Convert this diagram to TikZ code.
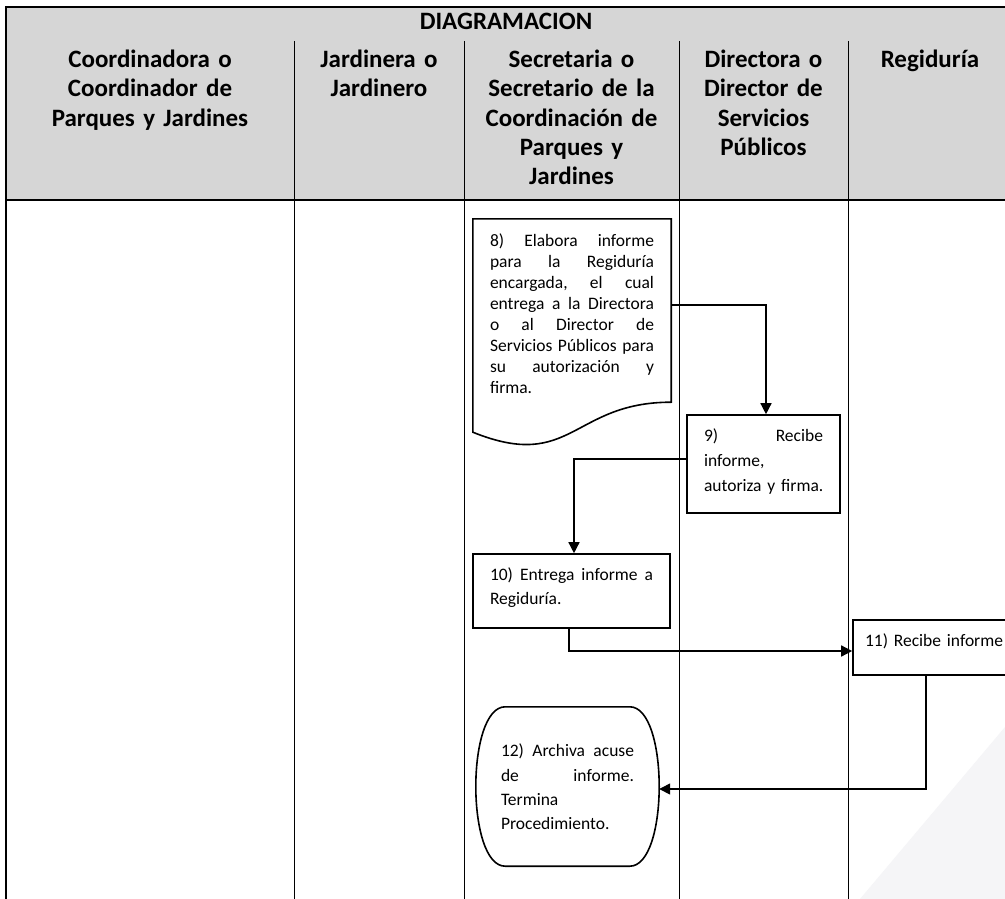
\documentclass[tikz,border=0pt]{standalone}
\usepackage{fontspec}
\setmainfont{Carlito}
\usetikzlibrary{arrows.meta,calc}
\definecolor{headgray}{RGB}{214,214,214}
\definecolor{wmark}{RGB}{245,245,247}
\newcommand\jline[1]{{\frenchspacing\spaceskip=0.23em plus 1fil\relax\makebox[\hsize][s]{#1}}}
\newcommand\lline[1]{\makebox[\hsize][l]{#1}}
\tikzset{
  lane/.style={line width=1pt},
  border/.style={line width=1.3pt},
  shapeline/.style={line width=1.6pt},
  box/.style={inner sep=0pt, align=left, font=\fontsize{17.5}{21}\selectfont},
  flow/.style={line width=1.4pt, -{Triangle[length=11pt,width=11pt]}},
  hdr/.style={font=\bfseries\fontsize{25}{29.5}\selectfont, align=center, anchor=base, text width=#1, inner sep=0pt},
}
\begin{document}
\begin{tikzpicture}[x=1pt,y=-1pt]
\useasboundingbox (0,0) rectangle (1005,899);
\fill[white] (0,0) rectangle (1005,899);
\fill[wmark] (860,899) -- (1005,727) -- (1005,899) -- cycle;
% table
\fill[headgray] (6,7) rectangle (1012,200);
\draw[border] (1012,7) -- (6,7) -- (6,899);
\draw[border] (6,200) -- (1012,200);
\foreach \x in {294,464,679,848} \draw[lane] (\x,41) -- (\x,899);
% headers
\node[hdr=400pt] (title) at (506,30) {DIAGRAMACION};
\node[hdr=285pt] (h1) at (150,67) {Coordinadora o\\Coordinador de\\Parques y Jardines};
\node[hdr=168pt] (h2) at (379,67) {Jardinera o\\Jardinero};
\node[hdr=213pt] (h3) at (571.5,67) {Secretaria o\\Secretario de la\\Coordinación de\\Parques y\\Jardines};
\node[hdr=167pt] (h4) at (763.5,67) {Directora o\\Director de\\Servicios\\Públicos};
\node[hdr=160pt] (h5) at (930,67) {Regiduría};
% step 8 (document)
\node[box, minimum width=198pt, minimum height=183pt, text width=164pt, text height=13pt, text depth=142pt] (n8) at (572,310.5)
 {\jline{8) Elabora informe}\\\jline{para la Regiduría}\\\jline{encargada, el cual}\\\jline{entrega a la Directora}\\\jline{o al Director de}\\\jline{Servicios Públicos para}\\\jline{su autorización y}\\\lline{firma.}};
\draw[shapeline] (n8.north west) -- (n8.north east) -- (n8.south east)
  .. controls (n8.south) and ($(n8.south)+(0,70)$) .. ($(n8.south west)+(0,30)$) -- cycle;
% step 9
\node[box, draw, shapeline, font=\fontsize{17.5}{25}\selectfont, minimum width=153pt, minimum height=98pt, text width=119pt, text height=13pt, text depth=59pt] (n9) at (763.5,464)
 {\jline{9) Recibe}\\\lline{informe,}\\\lline{autoriza y firma.}};
% step 10
\node[box, draw, shapeline, font=\fontsize{17.5}{24}\selectfont, minimum width=197pt, minimum height=74pt, text width=163pt, text height=13pt, text depth=35pt] (n10) at (571.5,591)
 {\jline{10) Entrega informe a}\\\lline{Regiduría.}};
% step 11
\node[box, draw, shapeline, minimum width=162pt, minimum height=55pt, text width=138pt, text height=13pt, text depth=15pt] (n11) at (934,647.5)
 {\lline{11) Recibe informe}};
% step 12 (terminator)
\node[box, font=\fontsize{17.5}{24.4}\selectfont, minimum width=183pt, minimum height=159pt, text width=133pt, text height=13pt, text depth=72.6pt] (n12) at (567.5,786.5)
 {\jline{12) Archiva acuse}\\\jline{de informe.}\\\lline{Termina}\\\lline{Procedimiento.}};
\draw[shapeline] ($(n12.north west)+(29.4,0)$) -- ($(n12.north east)+(-29.4,0)$)
  .. controls ($(n12.north east)+(9.8,0)$) and ($(n12.south east)+(9.8,0)$) .. ($(n12.south east)+(-29.4,0)$)
  -- ($(n12.south west)+(29.4,0)$)
  .. controls ($(n12.south west)+(-9.8,0)$) and ($(n12.north west)+(-9.8,0)$) .. cycle;
% connectors
\draw[flow] ([yshift=5.5pt]n8.east) -| ([xshift=2.5pt]n9.north);
\draw[flow] ([yshift=5pt]n9.west) -| ([xshift=2.5pt]n10.north);
\draw[flow] ([xshift=-2.5pt]n10.south) |- ([yshift=-3.5pt]n11.west);
\draw[flow] ([xshift=-8pt]n11.south) |- ([yshift=-2.5pt]n12.east);
\end{tikzpicture}
\end{document}
